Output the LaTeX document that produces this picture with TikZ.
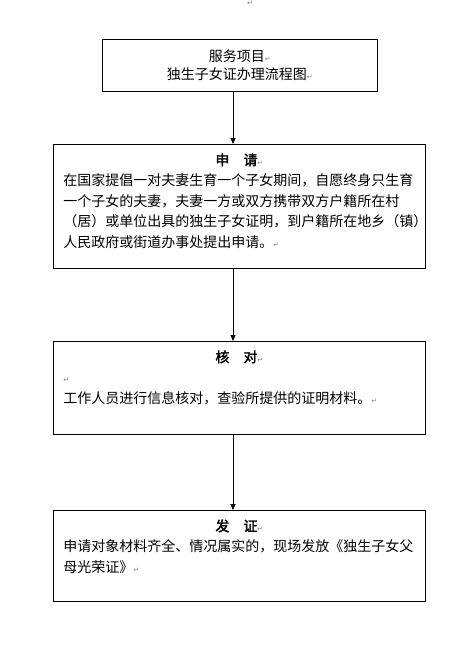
\documentclass[tikz,border=0pt]{standalone}
\usepackage{fontspec}
\setmainfont{Liberation Serif}
\newfontfamily\cjk{Noto Sans CJK SC}[AutoFakeBold=2]
\newfontfamily\markfont{DejaVu Sans}
\usetikzlibrary{arrows.meta}

\newcommand{\pmark}{{\markfont\fontsize{7}{7}\selectfont\color{gray}↵}}
\newcommand{\boxtext}[3]{\parbox[c][#1][t]{#2}{\vspace*{3pt}#3}}

\tikzset{
  stepbox/.style={draw, line width=0.8pt, anchor=north west, inner xsep=10pt, inner ysep=6pt,
    font=\cjk\fontsize{14}{20.5}\selectfont},
  flow/.style={-{Triangle[width=5pt,length=6pt]}, line width=0.8pt}
}

\begin{document}
\begin{tikzpicture}[x=1pt,y=-1pt]
    \useasboundingbox (0,0) rectangle (469,657);
    \node (topmark) at (250,3) {\pmark};

    % service title
    \node[stepbox, align=center, minimum width=275pt, minimum height=52pt,
      font=\cjk\fontsize{14}{18}\selectfont] (svc) at (102,39)
      {服务项目\pmark\\独生子女证办理流程图\pmark};

    % steps
    \node[stepbox] (apply) at (53,144) {\boxtext{112pt}{352pt}{%
      \centering\textbf{申　请}\pmark\par\raggedright
      在国家提倡一对夫妻生育一个子女期间，自愿终身只生育\\
      一个子女的夫妻，夫妻一方或双方携带双方户籍所在村\\
      （居）或单位出具的独生子女证明，到户籍所在地乡（镇）\\
      人民政府或街道办事处提出申请。\pmark}};

    \node[stepbox] (check) at (53,341) {\boxtext{81pt}{352pt}{%
      \centering\textbf{核　对}\pmark\par\raggedright
      \pmark\par
      工作人员进行信息核对，查验所提供的证明材料。\pmark}};

    \node[stepbox] (issue) at (53,510) {\boxtext{79pt}{352pt}{%
      \centering\textbf{发　证}\pmark\par\raggedright
      申请对象材料齐全、情况属实的，现场发放《独生子女父\\
      母光荣证》\pmark}};

    % connectors
    \coordinate (spine) at (233,0);
    \draw[flow] (svc.south -| spine) -- (apply.north -| spine);
    \draw[flow] (apply.south -| spine) -- (check.north -| spine);
    \draw[flow] (check.south -| spine) -- (issue.north -| spine);
\end{tikzpicture}
\end{document}
